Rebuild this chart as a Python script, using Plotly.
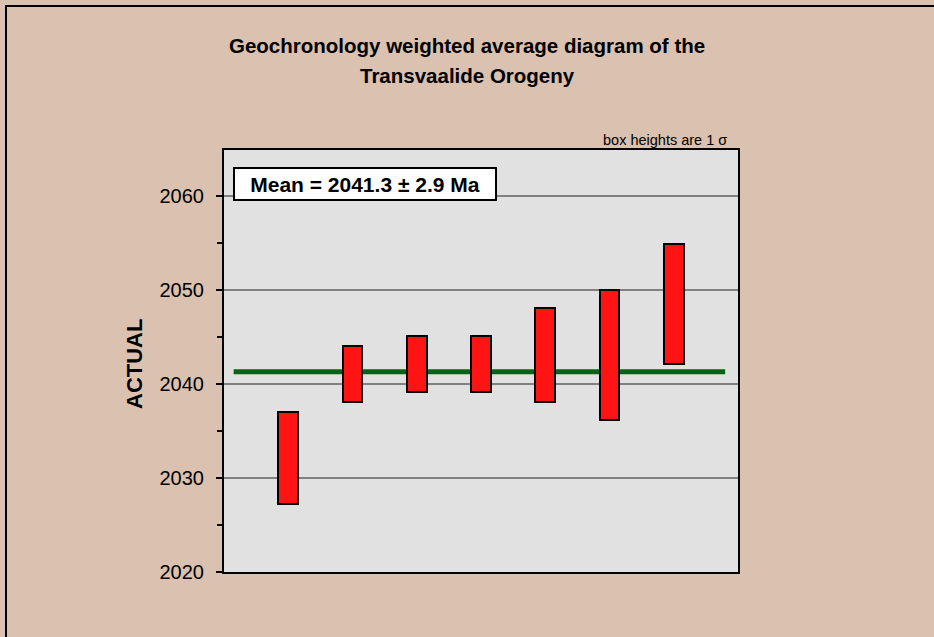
import plotly.graph_objects as go

# ---- data ----
samples = [1, 2, 3, 4, 5, 6, 7]
box_low = [2027.2, 2038.1, 2039.1, 2039.1, 2038.1, 2036.2, 2042.1]
box_high = [2037.0, 2044.0, 2045.1, 2045.1, 2048.1, 2050.0, 2054.9]
mean_value = 2041.3
mean_err = 2.9
y_ticks = [2020, 2030, 2040, 2050, 2060]
title_lines = ["Geochronology weighted average diagram of the", "Transvaalide Orogeny"]

W, H = 934, 637
L, R, T, B = 224, 738, 150, 572

def px_x(p):
    return (p - L) / (R - L)

def px_y(p):
    return (B - p) / (B - T)

fig = go.Figure()
fig.add_trace(go.Bar(
    x=samples,
    y=[h - l for h, l in zip(box_high, box_low)],
    base=box_low,
    width=0.31,
    marker=dict(color="#FF1414", line=dict(color="black", width=2)),
    showlegend=False,
    hoverinfo="skip",
))

fig.add_shape(type="line", xref="x", yref="y", x0=0.15, x1=7.8,
              y0=mean_value, y1=mean_value,
              line=dict(color="#0B6215", width=5), layer="below")

# outer frame (left & top visible)
fig.add_shape(type="rect", xref="paper", yref="paper",
              x0=px_x(6), x1=px_x(1000), y0=px_y(700), y1=px_y(6),
              line=dict(color="black", width=2), layer="below")

font = "Liberation Sans, Arial, sans-serif"

for txt, yc in zip(title_lines, [46, 75]):
    fig.add_annotation(xref="paper", yref="paper", x=px_x(467), y=px_y(yc),
                       text=f"<b>{txt}</b>", showarrow=False,
                       font=dict(family=font, size=20.5, color="black"),
                       xanchor="center", yanchor="middle")
fig.add_annotation(xref="paper", yref="paper", x=px_x(134), y=px_y(364),
                   text="<b>ACTUAL</b>", textangle=-90, showarrow=False,
                   font=dict(family=font, size=22, color="black"),
                   xanchor="center", yanchor="middle")
fig.add_annotation(xref="paper", yref="paper", x=px_x(233), y=px_y(167),
                   text=f"<b>Mean = {mean_value} ± {mean_err} Ma</b>",
                   showarrow=False, font=dict(family=font, size=21, color="black"),
                   xanchor="left", yanchor="top", bgcolor="white",
                   bordercolor="black", borderwidth=2, borderpad=2,
                   width=256, height=26)
fig.add_annotation(xref="paper", yref="paper", x=px_x(729), y=px_y(140),
                   text="box heights are 1 σ", showarrow=False,
                   font=dict(family=font, size=14.5, color="black"),
                   xanchor="right", yanchor="middle")

fig.update_layout(
    width=W, height=H,
    margin=dict(l=L, r=W - R, t=T, b=H - B, pad=0),
    paper_bgcolor="#DBC1AF",
    plot_bgcolor="#E1E1E1",
    font=dict(family=font, size=20, color="black"),
    bargap=0,
    xaxis=dict(range=[0, 8], showticklabels=False, ticks="", showgrid=False,
               zeroline=False, showline=True, linecolor="black", linewidth=2,
               mirror=True, fixedrange=True),
    yaxis=dict(range=[2020, 2064.9], tickvals=y_ticks, ticks="outside",
               ticklen=6, tickwidth=1.5, tickcolor="black",
               ticklabelstandoff=8,
               showgrid=True, gridcolor="#808080", gridwidth=1.5,
               zeroline=False, showline=True, linecolor="black", linewidth=2,
               mirror=True,
               minor=dict(dtick=5, ticks="outside", ticklen=5, tickwidth=1.5,
                          tickcolor="black", showgrid=False),
               tickfont=dict(family=font, size=20, color="black"),
               fixedrange=True),
)

fig.write_html("out.html", config={"displayModeBar": False},
               post_script="document.body.style.margin='0';")
